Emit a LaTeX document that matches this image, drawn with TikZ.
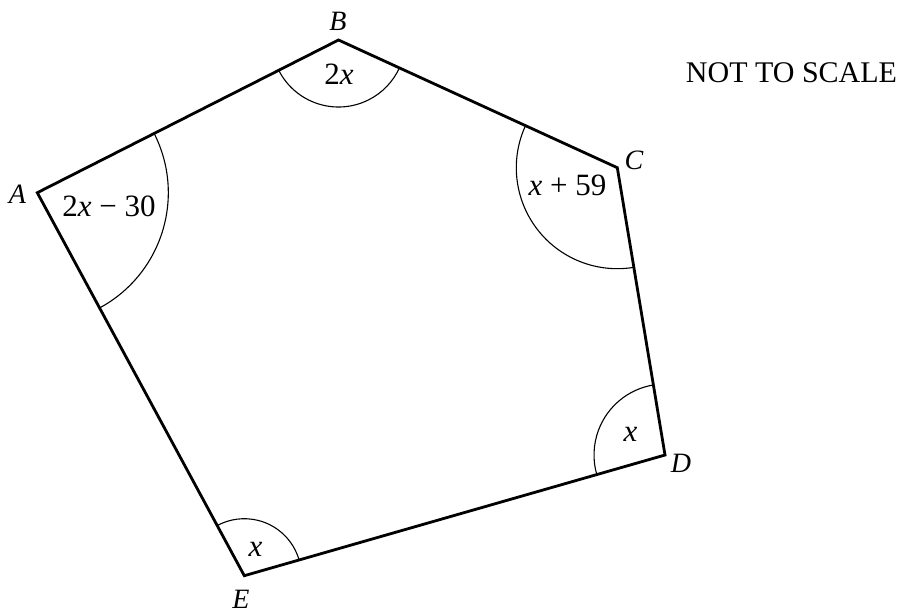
\documentclass[tikz,border=0pt]{standalone}
\usepackage{fontspec}
\setmainfont{Liberation Serif}
\usetikzlibrary{angles}
\begin{document}
\begin{tikzpicture}[x=1pt,y=-1pt,
  side/.style={line width=2.8pt,line join=miter},
  angarc/.style={draw,line width=1.1pt},
  lbl/.style={font=\fontsize{28}{33}\selectfont\itshape,inner sep=0pt},
  val/.style={font=\fontsize{31}{36}\selectfont,inner sep=0pt}]
\path[use as bounding box] (0,0) rectangle (904,613);
\coordinate (A) at (37.3,192.7);
\coordinate (B) at (338.5,40);
\coordinate (C) at (617.3,167.7);
\coordinate (D) at (665,455);
\coordinate (E) at (244.3,575.7);
\pic[angarc,angle radius=131pt] {angle=E--A--B};
\pic[angarc,angle radius=67pt] {angle=A--B--C};
\pic[angarc,angle radius=101pt] {angle=B--C--D};
\pic[angarc,angle radius=71pt] {angle=C--D--E};
\pic[angarc,angle radius=57pt] {angle=D--E--A};
\draw[side] (A)--(B)--(C)--(D)--(E)--cycle;
\node[lbl] (lA) at (17.5,194) {A};
\node[lbl] (lB) at (338,21) {B};
\node[lbl] (lC) at (634,160) {C};
\node[lbl] (lD) at (681,463) {D};
\node[lbl] (lE) at (241,599) {E};
\node[val] (vA) at (109,206) {2\textit{x} − 30};
\node[val] (vB) at (339,74) {2\textit{x}};
\node[val] (vC) at (567.5,185) {\textit{x} + 59};
\node[val] (vD) at (630.5,434) {\textit{x}};
\node[val] (vE) at (255.5,549.5) {\textit{x}};
\node[val,font=\fontsize{30}{36}\selectfont] (nts) at (791.5,73) {NOT TO SCALE};
\end{tikzpicture}
\end{document}
